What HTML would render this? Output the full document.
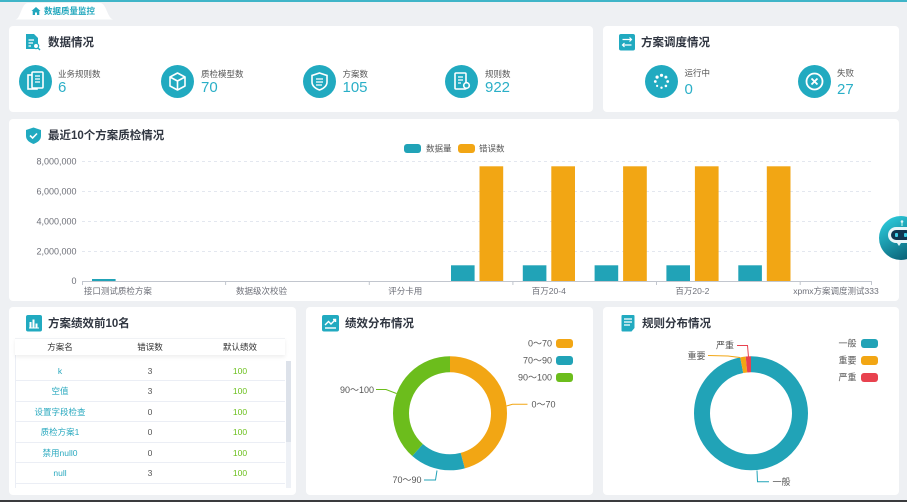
<!DOCTYPE html>
<html><head><meta charset="utf-8">
<style>
*{margin:0;padding:0;box-sizing:border-box}
html,body{width:907px;height:502px;overflow:hidden}
body{position:relative;background:#eef0f3;font-family:"Liberation Sans","Noto Sans CJK SC",sans-serif;color:#333}
.a{position:absolute}
.card{position:absolute;background:#fff;border-radius:4px}
.t{position:absolute;font-size:11.5px;font-weight:bold;color:#303641;height:16px;line-height:16px;white-space:nowrap}
.lb{position:absolute;font-size:8.5px;color:#555;white-space:nowrap;height:12px;line-height:12px}
.num{position:absolute;font-size:15px;color:#2aafc7;white-space:nowrap;height:18px;line-height:18px}
.ci{position:absolute;width:33px;height:33px;border-radius:50%;background:#21aac0}
.ci svg{position:absolute;left:0;top:0}
.row{position:absolute;left:15px;width:270px;height:20.5px;border-bottom:1px solid #ebeef5;font-size:8.5px;line-height:20px}
.row span,.hd span{position:absolute;width:90px;text-align:center;top:0}
.c1{left:0;color:#2aa9bf}.c2{left:90px;color:#555}.c3{left:180px;color:#6cc01e}
.hd{position:absolute;left:15px;top:338px;width:270px;height:17px;background:#fff;font-size:8.5px;line-height:17px;color:#333;box-shadow:0 2px 4px rgba(0,0,0,0.07);border-top:1px solid #f0f2f5}
</style></head><body>

<!-- top bar -->
<div class="a" style="left:0;top:0;width:907px;height:2px;background:#3fb5c8"></div>
<svg class="a" style="left:0;top:0" width="130" height="22">
<path d="M15,19.5 C21,19.5 21,3 28,3 L100,3 C107,3 107,19.5 114,19.5 Z" fill="#fff"/>
<path d="M31.5,11 L36,7 L40.5,11 L39.3,11 L39.3,15 L37,15 L37,12.5 L35,12.5 L35,15 L32.7,15 L32.7,11 Z" fill="#22a7bd"/>
</svg>
<div class="a" style="left:44px;top:5px;font-size:8.5px;font-weight:bold;color:#22a7bd;line-height:12px;white-space:nowrap">数据质量监控</div>

<!-- cards -->
<div class="card" style="left:9px;top:26px;width:584px;height:86px"></div>
<div class="card" style="left:603px;top:26px;width:296px;height:86px"></div>
<div class="card" style="left:9px;top:119px;width:890px;height:182px"></div>
<div class="card" style="left:9px;top:307px;width:287px;height:188px"></div>
<div class="card" style="left:306px;top:307px;width:287px;height:188px"></div>
<div class="card" style="left:603px;top:307px;width:296px;height:188px"></div>

<!-- card1 title -->
<svg class="a" style="left:25px;top:33px" width="16" height="18">
<path d="M1,1 H9 L13,5 V16 H1 Z" fill="#21aac0"/>
<path d="M3.5,7 H9 M3.5,10 H8 M3.5,13 H6" stroke="#fff" stroke-width="1.2"/>
<circle cx="11" cy="13" r="2.6" fill="#fff" stroke="#21aac0" stroke-width="1.3"/>
<path d="M12.8,14.8 L15,17" stroke="#21aac0" stroke-width="1.4"/>
</svg>
<div class="t" style="left:48px;top:35px">数据情况</div>

<!-- stats -->
<div class="ci" style="left:19px;top:65px"><svg width="33" height="33"><rect x="9" y="10" width="9" height="14" fill="none" stroke="#fff" stroke-width="1.6"/><rect x="13" y="7" width="11" height="16" rx="1" fill="#21aac0" stroke="#fff" stroke-width="1.6"/><path d="M16 11h5M16 14h5M16 17h5" stroke="#fff" stroke-width="1.3"/></svg></div>
<div class="lb" style="left:58px;top:68px">业务规则数</div>
<div class="num" style="left:58px;top:79px">6</div>

<div class="ci" style="left:161px;top:65px"><svg width="33" height="33"><path d="M16.5 8 L24 12 L24 21 L16.5 25 L9 21 L9 12 Z M9 12 L16.5 16 L24 12 M16.5 16 V25" fill="none" stroke="#fff" stroke-width="1.6" stroke-linejoin="round"/></svg></div>
<div class="lb" style="left:201px;top:68px">质检模型数</div>
<div class="num" style="left:201px;top:79px">70</div>

<div class="ci" style="left:302.5px;top:65px"><svg width="33" height="33"><path d="M16.5 8 L24 10.5 V17 C24 21 20.5 23.5 16.5 25 C12.5 23.5 9 21 9 17 V10.5 Z" fill="none" stroke="#fff" stroke-width="1.6"/><path d="M13 14h7M13 17h7M13 20h6" stroke="#fff" stroke-width="1.3"/></svg></div>
<div class="lb" style="left:342.5px;top:68px">方案数</div>
<div class="num" style="left:342.5px;top:79px">105</div>

<div class="ci" style="left:445px;top:65px"><svg width="33" height="33"><rect x="10" y="8" width="11" height="16" rx="1" fill="none" stroke="#fff" stroke-width="1.6"/><path d="M13 12h5M13 15h5M13 18h3" stroke="#fff" stroke-width="1.3"/><circle cx="21.5" cy="20.5" r="2.8" fill="#21aac0" stroke="#fff" stroke-width="1.6"/></svg></div>
<div class="lb" style="left:485px;top:68px">规则数</div>
<div class="num" style="left:485px;top:79px">922</div>

<!-- card2 -->
<svg class="a" style="left:619px;top:34px" width="17" height="17">
<rect x="0" y="0" width="16" height="16.5" rx="2" fill="#21aac0"/>
<path d="M3.5 5.5 H12.5 M3.5 11 H12.5" stroke="#fff" stroke-width="1.3"/>
<path d="M10.5 3.5 L12.5 5.5 L10.5 7.5 M5.5 9 L3.5 11 L5.5 13" fill="none" stroke="#fff" stroke-width="1.2"/>
</svg>
<div class="t" style="left:641px;top:35px">方案调度情况</div>

<div class="ci" style="left:644.5px;top:65px"><svg width="33" height="33" fill="#fff"><circle cx="16.5" cy="10.3" r="1.6"/><circle cx="20.9" cy="12.1" r="1.5"/><circle cx="22.7" cy="16.5" r="1.4"/><circle cx="20.9" cy="20.9" r="1.3"/><circle cx="16.5" cy="22.7" r="1.2"/><circle cx="12.1" cy="20.9" r="1.1"/><circle cx="10.3" cy="16.5" r="1.4"/><circle cx="12.1" cy="12.1" r="1.6"/></svg></div>
<div class="lb" style="left:684.5px;top:67px">运行中</div>
<div class="num" style="left:684.5px;top:81px">0</div>

<div class="ci" style="left:797.5px;top:65px"><svg width="33" height="33"><circle cx="16.5" cy="16.5" r="8" fill="none" stroke="#fff" stroke-width="1.8"/><path d="M13.5 13.5l6 6M19.5 13.5l-6 6" stroke="#fff" stroke-width="1.8"/></svg></div>
<div class="lb" style="left:837px;top:67px">失败</div>
<div class="num" style="left:837px;top:81px">27</div>

<!-- chart title -->
<svg class="a" style="left:25px;top:127px" width="17" height="18">
<path d="M8.5 0.5 L16 3 V9 C16 13 12.5 15.5 8.5 17 C4.5 15.5 1 13 1 9 V3 Z" fill="#21aac0"/>
<path d="M5 8.5 L7.6 11 L12 6.5" fill="none" stroke="#fff" stroke-width="1.6"/>
</svg>
<div class="t" style="left:48px;top:128px">最近10个方案质检情况</div>

<!-- bottom titles -->
<svg class="a" style="left:25.5px;top:315px" width="17" height="17">
<rect x="0" y="0" width="16" height="16.5" rx="2" fill="#21aac0"/>
<path d="M4.5 12.5 V7 M7.5 12.5 V4.5 M10.5 12.5 V8.5" stroke="#fff" stroke-width="2"/>
<path d="M3 13 H13" stroke="#fff" stroke-width="1"/>
</svg>
<div class="t" style="left:48px;top:316px">方案绩效前10名</div>

<svg class="a" style="left:321.5px;top:315px" width="18" height="17">
<rect x="0" y="0" width="17" height="16.5" rx="2" fill="#21aac0"/>
<path d="M3 10 L6.5 6.5 L9 9 L13.5 4.5 M11 4.5 H13.5 V7" fill="none" stroke="#fff" stroke-width="1.4"/>
<path d="M3 13 H14" stroke="#fff" stroke-width="1.4"/>
</svg>
<div class="t" style="left:345px;top:316px">绩效分布情况</div>

<svg class="a" style="left:621px;top:315px" width="15" height="18">
<path d="M0.5 1 Q0.5 0 1.5 0 H12.5 Q13.5 0 13.5 1 V13 L10.5 16.5 H1.5 Q0.5 16.5 0.5 15.5 Z" fill="#21aac0"/>
<path d="M3 4 H11 M3 7 H11 M3 10 H9" stroke="#fff" stroke-width="1.3"/>
</svg>
<div class="t" style="left:642px;top:316px">规则分布情况</div>

<!-- table -->
<div class="a" style="left:14.5px;top:338px;width:1px;height:150px;background:#ebeef5"></div>
<div class="hd"><span class="c1" style="color:#333">方案名</span><span class="c2" style="color:#333">错误数</span><span class="c3" style="color:#333">默认绩效</span></div>
<div class="row" style="top:360.5px"><span class="c1">k</span><span class="c2">3</span><span class="c3">100</span></div>
<div class="row" style="top:381px"><span class="c1">空值</span><span class="c2">3</span><span class="c3">100</span></div>
<div class="row" style="top:401.5px"><span class="c1">设置字段检查</span><span class="c2">0</span><span class="c3">100</span></div>
<div class="row" style="top:422px"><span class="c1">质检方案1</span><span class="c2">0</span><span class="c3">100</span></div>
<div class="row" style="top:442.5px"><span class="c1">禁用null0</span><span class="c2">0</span><span class="c3">100</span></div>
<div class="row" style="top:463px"><span class="c1">null</span><span class="c2">3</span><span class="c3">100</span></div>
<div class="a" style="left:285.5px;top:361px;width:5.5px;height:127px;background:#eef1f6"></div>
<div class="a" style="left:285.5px;top:361px;width:5.5px;height:81px;background:#dde2ea"></div>

<!-- graphics -->
<svg class="a" style="left:0;top:0" width="907" height="502" font-family="Liberation Sans, Noto Sans CJK SC, sans-serif">
<!-- legend -->
<rect x="404" y="144" width="17" height="9" rx="3" fill="#21a3b7"/>
<text x="426" y="151.5" font-size="8.5" fill="#555">数据量</text>
<rect x="458" y="144" width="17" height="9" rx="3" fill="#f2a614"/>
<text x="479" y="151.5" font-size="8.5" fill="#555">错误数</text>
<!-- grid -->
<g stroke="#e3e7ef" stroke-dasharray="3,3" stroke-width="1">
<line x1="82" y1="161.5" x2="872" y2="161.5"/>
<line x1="82" y1="191.5" x2="872" y2="191.5"/>
<line x1="82" y1="221.5" x2="872" y2="221.5"/>
<line x1="82" y1="251.5" x2="872" y2="251.5"/>
</g>
<g font-size="9" fill="#6e7079" text-anchor="end">
<text x="76.5" y="164.5">8,000,000</text>
<text x="76.5" y="194.5">6,000,000</text>
<text x="76.5" y="224.5">4,000,000</text>
<text x="76.5" y="254.5">2,000,000</text>
<text x="76.5" y="284">0</text>
</g>
<!-- bars -->
<g fill="#21a3b7">
<rect x="92" y="279" width="23.6" height="2"/>
<rect x="451" y="265.3" width="23.6" height="15.7"/>
<rect x="522.8" y="265.3" width="23.6" height="15.7"/>
<rect x="594.6" y="265.3" width="23.6" height="15.7"/>
<rect x="666.4" y="265.3" width="23.6" height="15.7"/>
<rect x="738.3" y="265.3" width="23.6" height="15.7"/>
</g>
<g fill="#f2a614">
<rect x="479.5" y="166.3" width="23.7" height="114.7"/>
<rect x="551.3" y="166.3" width="23.7" height="114.7"/>
<rect x="623.1" y="166.3" width="23.7" height="114.7"/>
<rect x="694.9" y="166.3" width="23.7" height="114.7"/>
<rect x="766.8" y="166.3" width="23.7" height="114.7"/>
</g>
<!-- axis -->
<line x1="82" y1="281.5" x2="872" y2="281.5" stroke="#c2c6ce" stroke-width="1"/>
<g stroke="#c2c6ce" stroke-width="1">
<line x1="82.5" y1="281" x2="82.5" y2="285"/>
<line x1="225.6" y1="281" x2="225.6" y2="285"/>
<line x1="369.3" y1="281" x2="369.3" y2="285"/>
<line x1="512.9" y1="281" x2="512.9" y2="285"/>
<line x1="656.5" y1="281" x2="656.5" y2="285"/>
<line x1="800.2" y1="281" x2="800.2" y2="285"/>
<line x1="871.5" y1="281" x2="871.5" y2="285"/>
</g>
<g font-size="8.5" fill="#6e7079" text-anchor="middle">
<text x="117.9" y="294">接口测试质检方案</text>
<text x="261.5" y="294">数据级次校验</text>
<text x="405.2" y="294">评分卡用</text>
<text x="548.8" y="294">百万20-4</text>
<text x="692.4" y="294">百万20-2</text>
<text x="836" y="294">xpmx方案调度测试333</text>
</g>

<!-- middle donut -->
<g transform="translate(450,413.3) rotate(-90)" fill="none" stroke-width="16">
<circle r="49" stroke="#f2a614" stroke-dasharray="140.77 307.88" stroke-dashoffset="0"/>
<circle r="49" stroke="#21a3b7" stroke-dasharray="48.32 307.88" stroke-dashoffset="-140.77"/>
<circle r="49" stroke="#6cbd1c" stroke-dasharray="118.79 307.88" stroke-dashoffset="-189.09"/>
</g>
<g fill="none" stroke-width="1">
<polyline points="506.5,406 512.5,404.3 527.5,404.3" stroke="#f2a614"/>
<polyline points="376,389.5 386,389.5 396.5,393.5" stroke="#6cbd1c"/>
<polyline points="424,480 435.5,480 437,470.5" stroke="#21a3b7"/>
</g>
<g font-size="9" fill="#555">
<text x="531.5" y="407.5">0～70</text>
<text x="340" y="393">90～100</text>
<text x="392.5" y="483">70～90</text>
</g>
<g font-size="9" fill="#555" text-anchor="end">
<text x="552" y="346.5">0～70</text>
<text x="552" y="363.5">70～90</text>
<text x="552" y="380.5">90～100</text>
</g>
<rect x="556" y="339" width="17" height="9" rx="3" fill="#f2a614"/>
<rect x="556" y="356" width="17" height="9" rx="3" fill="#21a3b7"/>
<rect x="556" y="373" width="17" height="9" rx="3" fill="#6cbd1c"/>

<!-- right donut -->
<g transform="translate(751,413.3) rotate(-90)" fill="none" stroke-width="16">
<circle r="49" stroke="#21a3b7" stroke-dasharray="298.04 307.88" stroke-dashoffset="0"/>
<circle r="49" stroke="#f2a614" stroke-dasharray="4.7 307.88" stroke-dashoffset="-298.04"/>
<circle r="49" stroke="#e8424f" stroke-dasharray="5.13 307.88" stroke-dashoffset="-302.75"/>
</g>
<g fill="none" stroke-width="1">
<polyline points="737,345.5 747.5,345.5 748.5,357" stroke="#e8424f"/>
<polyline points="708,355.5 728,356 740,357.5" stroke="#f2a614"/>
<polyline points="757,470.5 757.5,481.7 769,481.7" stroke="#21a3b7"/>
</g>
<g font-size="9" fill="#555">
<text x="716" y="348.5">严重</text>
<text x="687.5" y="359">重要</text>
<text x="772.5" y="485">一般</text>
</g>
<g font-size="9" fill="#555" text-anchor="end">
<text x="856.5" y="346.5">一般</text>
<text x="856.5" y="363.5">重要</text>
<text x="856.5" y="380.5">严重</text>
</g>
<rect x="861" y="339" width="17" height="9" rx="3" fill="#21a3b7"/>
<rect x="861" y="356" width="17" height="9" rx="3" fill="#f2a614"/>
<rect x="861" y="373" width="17" height="9" rx="3" fill="#e8424f"/>

<!-- robot -->
<defs>
<linearGradient id="rg" x1="0" y1="0" x2="0.6" y2="1">
<stop offset="0" stop-color="#2fd6e6"/>
<stop offset="1" stop-color="#0a6378"/>
</linearGradient>
</defs>
<circle cx="901" cy="238" r="22" fill="url(#rg)"/>
<line x1="902" y1="222" x2="902" y2="226" stroke="#cfe" stroke-width="1"/>
<circle cx="902" cy="221.5" r="1.3" fill="#e0f4f8"/>
<rect x="888" y="227" width="26" height="16" rx="8" fill="#eaf6f9"/>
<rect x="891" y="230" width="20" height="10" rx="5" fill="#0f3550"/>
<rect x="895" y="233" width="3" height="4" rx="1" fill="#3fd0e8"/>
<rect x="904" y="233" width="3" height="4" rx="1" fill="#3fd0e8"/>
<path d="M897 243 L899 246 L901 243 Z" fill="#eaf6f9"/>
</svg>

<!-- bottom dark strip -->
<div class="a" style="left:0;top:500px;width:907px;height:2px;background:#3a3b3d"></div>
</body></html>
